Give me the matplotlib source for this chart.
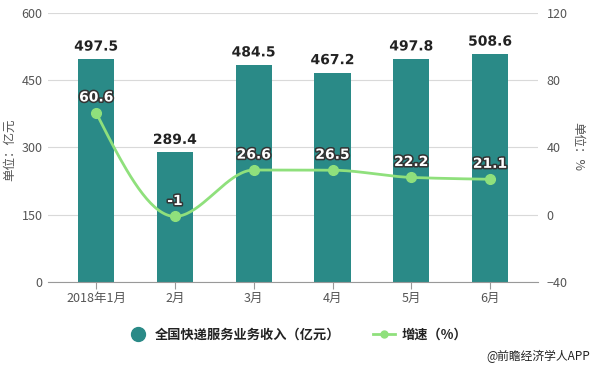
import numpy as np
import matplotlib
matplotlib.use("Agg")
import matplotlib.pyplot as plt
import matplotlib.patheffects as pe
from matplotlib.lines import Line2D

plt.rcParams['font.family'] = ['Noto Sans CJK SC', 'DejaVu Sans']

categories = ['2018年1月', '2月', '3月', '4月', '5月', '6月']
revenue = [497.5, 289.4, 484.5, 467.2, 497.8, 508.6]
growth = [60.6, -1, 26.6, 26.5, 22.2, 21.1]
growth_labels = ['60.6', '-1', '26.6', '26.5', '22.2', '21.1']

bar_color = '#2a8a87'
line_color = '#8fe07c'
grid_color = '#d9d9d9'
tick_color = '#555555'

fig = plt.figure(figsize=(5.94, 3.66), dpi=100)
ax = fig.add_axes([0.081, 0.2295, 0.825, 0.735])
ax2 = ax.twinx()

x = np.arange(len(categories))
ax.bar(x, revenue, width=0.46, color=bar_color, zorder=2)
ax.set_ylim(0, 600)
ax.set_yticks([0, 150, 300, 450, 600])
ax.set_xlim(-0.61, 5.61)
ax.set_xticks(x)
ax.set_xticklabels(categories)
ax.grid(axis='y', color=grid_color, linewidth=0.8, zorder=0)
ax.set_axisbelow(True)
for s in ['top', 'right', 'left']:
    ax.spines[s].set_visible(False)
    ax2.spines[s].set_visible(False)
ax2.spines['bottom'].set_visible(False)
ax.spines['bottom'].set_color('#999999')
ax.tick_params(axis='y', length=0, labelsize=9, labelcolor=tick_color, pad=4)
ax.tick_params(axis='x', length=5, color='#999999', labelsize=9, labelcolor=tick_color, pad=2)
ax2.tick_params(axis='y', length=0, labelsize=9, labelcolor=tick_color, pad=6)
ax2.set_ylim(-40, 120)
ax2.set_yticks([-40, 0, 40, 80, 120])

for xi, v in zip(x, revenue):
    ax.text(xi, v + 12, f'{v}', ha='center', va='bottom', fontsize=10,
            fontweight='bold', color='#222222', family='DejaVu Sans',
            path_effects=[pe.withStroke(linewidth=2.5, foreground='white')])

# monotone cubic (PCHIP-like) rendering of the line between data points
def monotone(xs, ys, n=40):
    xs = np.asarray(xs, float); ys = np.asarray(ys, float)
    h = np.diff(xs)
    d = np.diff(ys) / h
    m = np.zeros_like(ys)
    m[0], m[-1] = d[0], d[-1]
    for i in range(1, len(ys) - 1):
        if d[i - 1] * d[i] <= 0:
            m[i] = 0
        else:
            m[i] = 2 / (1 / d[i - 1] + 1 / d[i])
    # endpoints like d3 monotoneX
    m[0] = (3 * d[0] - m[1]) / 2 if len(ys) > 2 else d[0]
    m[-1] = (3 * d[-1] - m[-2]) / 2 if len(ys) > 2 else d[-1]
    if m[0] * d[0] < 0:
        m[0] = 0
    if m[-1] * d[-1] < 0:
        m[-1] = 0
    px, py = [], []
    t = np.linspace(0, 1, n)
    for i in range(len(ys) - 1):
        h00 = 2*t**3 - 3*t**2 + 1
        h10 = t**3 - 2*t**2 + t
        h01 = -2*t**3 + 3*t**2
        h11 = t**3 - t**2
        py.extend(h00*ys[i] + h10*h[i]*m[i] + h01*ys[i+1] + h11*h[i]*m[i+1])
        px.extend(xs[i] + t*h[i])
    return px, py

cx, cy = monotone(x, growth)
ax2.plot(cx, cy, color=line_color, linewidth=2, zorder=3)
ax2.plot(x, growth, 'o', color=line_color, markersize=7, zorder=4)
for xi, v, lab in zip(x, growth, growth_labels):
    ax2.text(xi, v + 5, lab, ha='center', va='bottom', fontsize=10,
             fontweight='bold', color='white', zorder=5, family='DejaVu Sans',
             path_effects=[pe.withStroke(linewidth=2.2, foreground='#333333')])

fig.text(0.017, 0.59, '单位：亿元', rotation=90, ha='center', va='center',
         fontsize=9, color=tick_color)
fig.text(0.972, 0.60, '单位：%', rotation=-90, ha='center', va='center',
         fontsize=9, color=tick_color)

handles = [
    Line2D([], [], marker='o', linestyle='none', color=bar_color, markersize=10),
    Line2D([], [], marker='o', linestyle='-', color=line_color, markersize=5, linewidth=2),
]
leg = fig.legend(handles, ['全国快递服务业务收入（亿元）', '增速（%）'],
                 loc='center', bbox_to_anchor=(0.5, 0.085), ncol=2, frameon=False,
                 prop={'size': 9.5, 'weight': 'bold'}, handlelength=1.6,
                 columnspacing=2.5, handletextpad=0.5)
for t in leg.get_texts():
    t.set_color('#222222')

fig.text(0.993, 0.025, '@前瞻经济学人APP', ha='right', va='center', fontsize=8.5,
         color='#222222')

fig.savefig('out.png', dpi=100)
